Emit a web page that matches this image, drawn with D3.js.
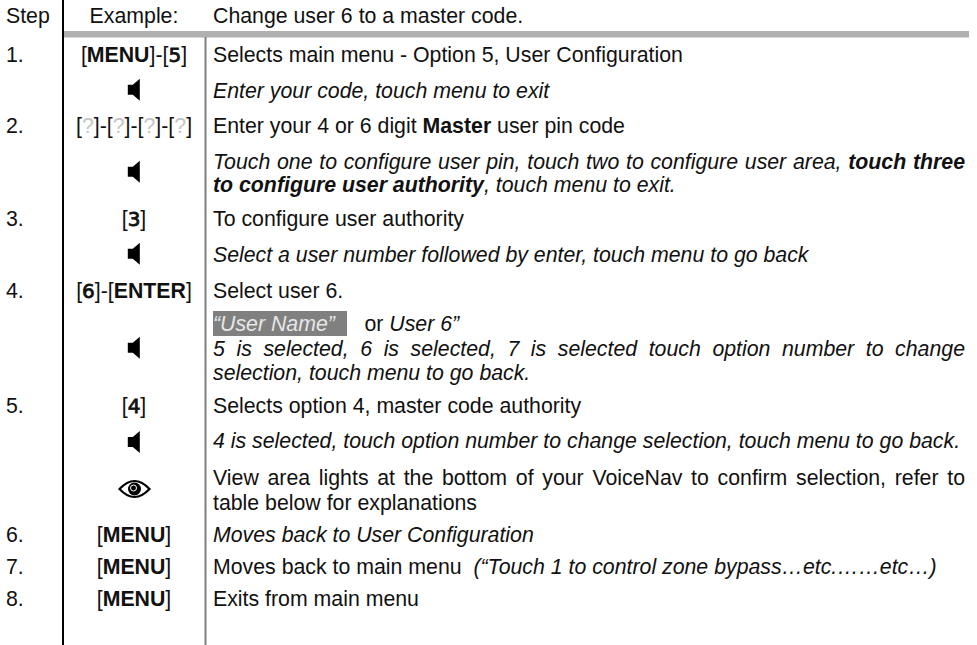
<!DOCTYPE html>
<html>
<head>
<meta charset="utf-8">
<script src="https://cdn.jsdelivr.net/npm/d3@7"></script>
<style>
html, body { margin: 0; padding: 0; background: #fff; }
svg { display: block; }
text { font-family: "Liberation Sans", Arial, sans-serif; font-size: 21.3px; fill: #111; white-space: pre; }
</style>
</head>
<body>
<script>
// table content, one entry per printed line. n = plain, b = bold, i = italic, bi = both, d = key digit, q = grey ?, w = on grey box
var stepLabels = ["1.", "2.", "3.", "4.", "5.", "6.", "7.", "8."];
var stepLines = [0, 2, 5, 7, 11, 15, 16, 17];

var keyLabels = [
	[["[", "n"], ["MENU", "b"], ["]-[", "n"], ["5", "d"], ["]", "n"]],
	[["[", "n"], ["?", "q"], ["]-[", "n"], ["?", "q"], ["]-[", "n"], ["?", "q"], ["]-[", "n"], ["?", "q"], ["]", "n"]],
	[["[", "n"], ["3", "d"], ["]", "n"]],
	[["[", "n"], ["6", "d"], ["]-[", "n"], ["ENTER", "b"], ["]", "n"]],
	[["[", "n"], ["4", "d"], ["]", "n"]],
	[["[", "n"], ["MENU", "b"], ["]", "n"]],
	[["[", "n"], ["MENU", "b"], ["]", "n"]],
	[["[", "n"], ["MENU", "b"], ["]", "n"]]
];

var speakerLines = [0.94, 3.39, 5.94, 8.91, 12];
var eyeLine = 13.4;

var descLines = [
	[["Selects main menu - Option 5, User Configuration", "n"]],
	[["Enter your code, touch menu to exit", "i"]],
	[["Enter your 4 or 6 digit ", "n"], ["Master", "b"], [" user pin code", "n"]],
	[["Touch one to configure user pin, touch two to configure user area, ", "i"], ["touch three", "bi"]],
	[["to configure user authority", "bi"], [", touch menu to exit.", "i"]],
	[["To configure user authority", "n"]],
	[["Select a user number followed by enter, touch menu to go back", "i"]],
	[["Select user 6.", "n"]],
	[["\u201CUser Name\u201D", "w"], ["     or ", "n"], ["User 6\u201D", "i"]],
	[["5 is selected, 6 is selected, 7 is selected touch option number to change", "i"]],
	[["selection, touch menu to go back.", "i"]],
	[["Selects option 4, master code authority", "n"]],
	[["4 is selected, touch option number to change selection, touch menu to go back.", "i"]],
	[["View area lights at the bottom of your VoiceNav to confirm selection, refer to", "n"]],
	[["table below for explanations", "n"]],
	[["Moves back to User Configuration", "i"]],
	[["Moves back to main menu  ", "n"], ["(\u201CTouch 1 to control zone bypass\u2026etc.\u2026\u2026etc\u2026)", "i"]],
	[["Exits from main menu", "n"]]
];
var justifiedLines = [3, 9, 13];
var highlightLine = 8;

// layout
var width = 977, height = 645;
var baselines = [62, 98, 133, 168.5, 192, 225.5, 262, 298, 331, 356, 379.5, 412.5, 448, 485, 510, 542, 573.5, 605.5];
var stepX = 6, keyX = 134, descX = 213, descRight = 965;

var lineY = d3.scaleLinear().domain(d3.range(baselines.length)).range(baselines);

var svg = d3.select("body").append("svg")
	.attr("width", width)
	.attr("height", height);

// rules
svg.append("rect").attr("x", 63).attr("y", 31).attr("width", 906).attr("height", 6.5).attr("fill", "#b0b0b0");
svg.append("line").attr("x1", 63).attr("x2", 63).attr("y1", 0).attr("y2", height)
	.attr("stroke", "#000").attr("stroke-width", 2);
svg.append("line").attr("x1", 205.5).attr("x2", 205.5).attr("y1", 37).attr("y2", height)
	.attr("stroke", "#808080").attr("stroke-width", 2);

// grey box behind the user name
svg.append("rect")
	.attr("x", 213).attr("y", lineY(highlightLine) - 20)
	.attr("width", 134).attr("height", 25)
	.attr("fill", "#808080");

function addSegments(sel) { // each segment gets its own tspan so fonts can mix on one line
	sel.selectAll("tspan")
		.data(function (d) { return d; })
		.enter()
		.append("tspan")
		.text(function (d) { return d[0]; })
		.style("font-weight", function (d) { return d[1] == "b" || d[1] == "bi" ? "bold" : "normal"; })
		.style("font-style", function (d) { return d[1] == "i" || d[1] == "bi" || d[1] == "w" ? "italic" : "normal"; })
		.style("font-family", function (d) { return d[1] == "d" ? "'DejaVu Sans'" : null; })
		.style("font-size", function (d) { return d[1] == "d" ? "20px" : null; })
		.style("stroke", function (d) { return d[1] == "d" ? "#111" : "none"; })
		.style("stroke-width", function (d) { return d[1] == "d" ? 0.8 : null; })
		.style("fill", function (d) {
			if (d[1] == "w") return "#e6e6e6";
			if (d[1] == "q") return "#c4c4c4";
			return "#111";
		});
}

// header
svg.append("text").attr("x", stepX).attr("y", 23).text("Step");
svg.append("text").attr("x", keyX).attr("y", 23).attr("text-anchor", "middle").text("Example:");
svg.append("text").attr("x", descX).attr("y", 23).text("Change user 6 to a master code.");

// step numbers
svg.selectAll(".step")
	.data(stepLabels)
	.enter()
	.append("text")
	.attr("class", "step")
	.attr("x", stepX)
	.attr("y", function (d, i) { return lineY(stepLines[i]); })
	.text(function (d) { return d; });

// key column
svg.selectAll(".key")
	.data(keyLabels)
	.enter()
	.append("text")
	.attr("class", "key")
	.attr("x", keyX)
	.attr("y", function (d, i) { return lineY(stepLines[i]); })
	.attr("text-anchor", "middle")
	.call(addSegments);

// description column
var desc = svg.selectAll(".desc")
	.data(descLines)
	.enter()
	.append("text")
	.attr("class", "desc")
	.attr("x", descX)
	.attr("y", function (d, i) { return lineY(i); })
	.call(addSegments);

// stretch the justified lines out to the right edge
desc.filter(function (d, i) { return justifiedLines.indexOf(i) >= 0; })
	.each(function (d) {
		var spaces = d.map(function (s) { return s[0]; }).join("").split(" ").length - 1;
		var extra = (descRight - descX - this.getComputedTextLength()) / spaces;
		d3.select(this).style("word-spacing", extra + "px");
	});

// speaker icons
svg.selectAll(".speaker")
	.data(speakerLines)
	.enter()
	.append("path")
	.attr("class", "speaker")
	.attr("d", "M-6,-5 L-1,-5 L6,-11 L6,11 L-1,5 L-6,5 Z")
	.attr("fill", "#000")
	.attr("transform", function (d) { return "translate(133.8," + (lineY(d) - 6) + ")"; });

// eye icon
var eye = svg.append("g").attr("transform", "translate(134.5," + (lineY(eyeLine) - 6) + ")");
eye.append("path")
	.attr("d", "M-15,0 Q0,-16 15,0 Q0,16 -15,0 Z")
	.attr("fill", "none").attr("stroke", "#000").attr("stroke-width", 2.2);
eye.append("circle").attr("r", 6.5).attr("fill", "#000");
eye.append("circle").attr("cx", -1).attr("cy", -1).attr("r", 3).attr("fill", "none")
	.attr("stroke", "#fff").attr("stroke-width", 1);
</script>
</body>
</html>
